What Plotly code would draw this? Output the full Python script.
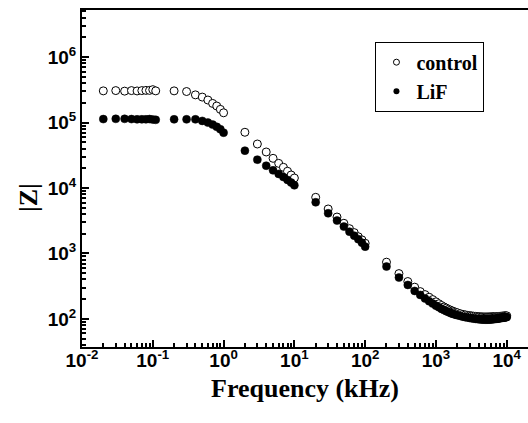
import plotly.graph_objects as go

# Frequency (kHz)
freq = [0.02, 0.03, 0.04, 0.05, 0.06, 0.07, 0.08, 0.09, 0.1, 0.11,
        0.2, 0.3, 0.4, 0.5, 0.6, 0.7, 0.8, 0.9, 1.0,
        2, 3, 4, 5, 6, 7, 8, 9, 10,
        20, 30, 40, 50, 60, 70, 80, 90, 100,
        200, 300, 400, 500, 600, 700, 800, 900, 1000,
        1100, 1200, 1300, 1400, 1500, 1600, 1700, 1800, 1900, 2000,
        2200, 2400, 2600, 2800, 3000, 3200, 3400, 3600, 3800, 4000,
        4200, 4400, 4600, 4800, 5000, 5200, 5400, 5600, 5800, 6000,
        6200, 6400, 6600, 6800, 7000, 7200, 7400, 7600, 7800, 8000,
        8200, 8400, 8600, 8800, 9000, 9200, 9400, 9600, 9800, 10000]

z_control = [3.05e5, 3.08e5, 3.02e5, 3.08e5, 3.04e5, 3.08e5, 3.1e5, 3.1e5, 3.18e5, 3.05e5,
             3.05e5, 2.98e5, 2.65e5, 2.45e5, 2.21e5, 1.96e5, 1.79e5, 1.59e5, 1.41e5,
             7.1e4, 4.7e4, 3.55e4, 2.84e4, 2.38e4, 2.07e4, 1.80e4, 1.58e4, 1.42e4,
             7.2e3, 4.78e3, 3.6e3, 2.89e3, 2.39e3, 2.08e3, 1.80e3, 1.61e3, 1.43e3,
             735, 492, 372, 305, 261, 235, 214, 197, 182,
             170, 160, 152, 146, 140, 136, 132, 129, 126, 124,
             120, 117, 115, 113, 112, 111, 110, 109.2, 108.6, 108,
             107.6, 107.3, 107, 106.8, 106.7, 106.7, 106.8, 106.9, 107, 107.2,
             107.4, 107.6, 107.8, 108, 108.2, 108.4, 108.6, 108.8, 109, 109.2,
             109.4, 109.6, 109.8, 110, 110.2, 110.4, 110.6, 110.8, 111, 111.2]

z_lif = [1.13e5, 1.14e5, 1.14e5, 1.13e5, 1.12e5, 1.12e5, 1.12e5, 1.13e5, 1.11e5, 1.10e5,
         1.12e5, 1.12e5, 1.12e5, 1.06e5, 1.0e5, 9.3e4, 8.6e4, 7.9e4, 7.0e4,
         3.72e4, 2.71e4, 2.19e4, 1.86e4, 1.64e4, 1.47e4, 1.33e4, 1.21e4, 1.10e4,
         6.05e3, 4.11e3, 3.18e3, 2.57e3, 2.15e3, 1.87e3, 1.65e3, 1.46e3, 1.27e3,
         630, 428, 330, 267, 232, 205, 186, 171, 159,
         150, 142, 136, 131, 127, 123, 120, 118, 116, 114,
         111, 108, 106, 105, 103, 102, 101, 100, 99.5, 99,
         98.5, 98, 97.8, 97.6, 97.5, 97.5, 97.6, 97.8, 98, 98.3,
         98.6, 99, 99.4, 99.8, 100.2, 100.6, 101, 101.5, 102, 102.5,
         103, 103.4, 103.8, 104.2, 104.6, 105, 105.4, 105.8, 106.2, 106.6]

x_tickvals = [1e-2, 1e-1, 1e0, 1e1, 1e2, 1e3, 1e4]
x_ticktext = ["10<sup>-2</sup>", "10<sup>-1</sup>", "10<sup>0</sup>", "10<sup>1</sup>",
              "10<sup>2</sup>", "10<sup>3</sup>", "10<sup>4</sup>"]
y_tickvals = [1e2, 1e3, 1e4, 1e5, 1e6]
y_ticktext = ["10<sup>2</sup>", "10<sup>3</sup>", "10<sup>4</sup>", "10<sup>5</sup>", "10<sup>6</sup>"]

x_minor = [k * 10.0 ** d for d in range(-2, 4) for k in range(2, 10)]
y_minor = [k * 10.0 ** d for d in range(1, 7) for k in range(2, 10)]
y_minor = [v for v in y_minor if 37 <= v <= 5.2e6]

fig = go.Figure()
fig.add_trace(go.Scatter(x=freq, y=z_control, mode="markers", name="control", showlegend=False,
                         marker=dict(symbol="circle", size=8, color="white",
                                     line=dict(color="black", width=1))))
fig.add_trace(go.Scatter(x=freq, y=z_lif, mode="markers", name="LiF", showlegend=False,
                         marker=dict(symbol="circle", size=8, color="black",
                                     line=dict(color="black", width=0.5))))
# legend entries (smaller symbols, as in the original)
fig.add_trace(go.Scatter(x=[None], y=[None], mode="markers", name="control",
                         marker=dict(symbol="circle", size=6, color="white",
                                     line=dict(color="black", width=1))))
fig.add_trace(go.Scatter(x=[None], y=[None], mode="markers", name="LiF",
                         marker=dict(symbol="circle", size=6, color="black")))

tickfont = dict(family="Liberation Sans, Arial, sans-serif", size=19, color="black", weight="bold")

fig.update_xaxes(type="log", range=[-2, 4.30], showgrid=False, zeroline=False,
                 showline=True, linecolor="black", linewidth=2, mirror=True,
                 ticks="inside", ticklen=7, tickwidth=1.5, tickcolor="black",
                 tickmode="array", tickvals=x_tickvals, ticktext=x_ticktext,
                 tickfont=tickfont, ticklabelstandoff=-5,
                 minor=dict(ticks="inside", ticklen=4, tickwidth=1.5, tickcolor="black",
                            tickmode="array", tickvals=x_minor, showgrid=False))
fig.update_yaxes(type="log", range=[1.57, 6.72], showgrid=False, zeroline=False,
                 showline=True, linecolor="black", linewidth=2, mirror=False,
                 ticks="inside", ticklen=7, tickwidth=1.5, tickcolor="black",
                 tickmode="array", tickvals=y_tickvals, ticktext=y_ticktext,
                 tickfont=tickfont,
                 minor=dict(ticks="inside", ticklen=4, tickwidth=1.5, tickcolor="black",
                            tickmode="array", tickvals=y_minor, showgrid=False))

titlefont = dict(family="Liberation Serif, Times New Roman, serif", size=26, color="black", weight="bold")
fig.add_annotation(text="Frequency (kHz)", xref="paper", yref="paper", x=0.5, y=-0.124,
                   xanchor="center", yanchor="middle", showarrow=False, font=titlefont)
fig.add_annotation(text="|Z|", xref="paper", yref="paper", x=-0.1211, y=0.445,
                   xanchor="center", yanchor="middle", showarrow=False, textangle=-90,
                   font=titlefont)

fig.update_layout(
    width=528, height=423,
    margin=dict(l=82, r=0, t=10, b=76),
    paper_bgcolor="white", plot_bgcolor="white",
    legend=dict(x=0.658, y=0.906, xanchor="left", yanchor="top",
                bordercolor="black", borderwidth=1, bgcolor="white",
                font=dict(family="Liberation Serif, Times New Roman, serif", size=20,
                          color="black", weight="bold"),
                itemwidth=30, tracegroupgap=0),
)

fig.write_html("out.html")
